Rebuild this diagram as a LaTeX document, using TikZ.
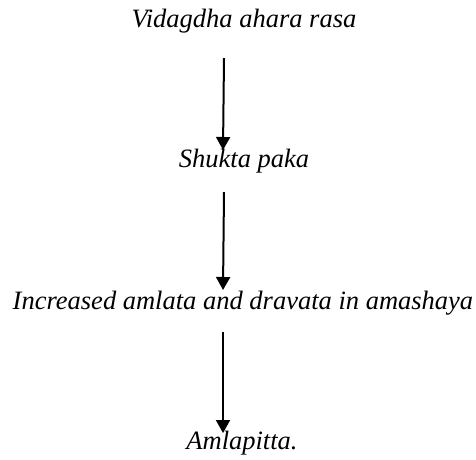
\documentclass[tikz,border=0pt]{standalone}
\usepackage{fontspec}
\setmainfont{Liberation Serif}
\usetikzlibrary{arrows.meta}
\begin{document}
\begin{tikzpicture}[x=1pt,y=-1pt,
  lbl/.style={anchor=base,inner sep=0pt,font=\fontsize{26.5}{30}\selectfont\itshape},
  flow/.style={line width=2pt,-{Triangle[width=14pt,length=13pt]}}]
\useasboundingbox (0,0) rectangle (476,459);
\node[lbl] (t1) at (244,27) {Vidagdha ahara rasa};
\node[lbl] (t2) at (244,167) {Shukta paka};
\node[lbl] (t3) at (243,309) {Increased amlata and dravata in amashaya};
\node[lbl] (t4) at (242,449) {Amlapitta.};
\coordinate (a1s) at (224,58);
\coordinate (a1e) at (223,150);
\coordinate (a2s) at (224,192);
\coordinate (a2e) at (223,290);
\coordinate (a3s) at (223,332);
\coordinate (a3e) at (223,433);
\draw[flow] (a1s) -- (a1e);
\draw[flow] (a2s) -- (a2e);
\draw[flow] (a3s) -- (a3e);
\end{tikzpicture}
\end{document}
